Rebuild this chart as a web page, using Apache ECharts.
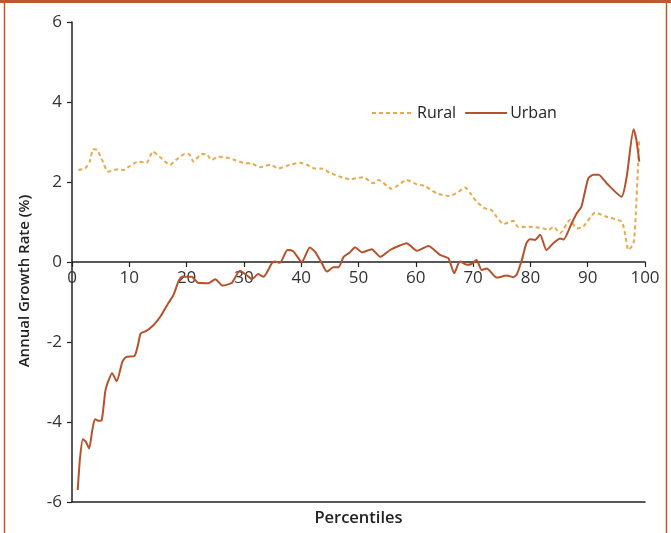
<!DOCTYPE html>
<html>
<head>
<meta charset="utf-8">
<script src="https://cdn.jsdelivr.net/npm/echarts@6/dist/echarts.min.js"></script>
<style>
html,body{margin:0;padding:0;background:#fff;}
#chart{width:671px;height:533px;}
</style>
</head>
<body>
<div id="chart"></div>
<script>
const xTicks = [0,10,20,30,40,50,60,70,80,90,100];
const yTicks = [-6,-4,-2,0,2,4,6];
const seriesNames = ['Rural','Urban'];

const ruralPct = [1.1,2.3,3.1,3.7,4.4,5.2,6.3,8.1,9.0,10.1,11.6,13.0,14.1,15.4,17.1,18.3,19.7,20.5,21.2,22.6,23.5,24.4,25.5,27.0,28.4,30.2,31.4,32.8,34.6,36.0,38.0,39.8,41.0,42.4,43.5,45.0,46.8,48.5,50.8,52.6,53.5,55.8,58.4,60.2,61.6,63.6,65.7,67.1,68.6,69.5,70.6,72.1,73.2,74.1,75.3,77.0,77.9,79.9,82.3,83.2,84.0,85.2,86.9,88.1,89.2,91.3,93.3,95.9,96.5,97.1,98.0,98.4,98.8,99.0];
const ruralRate = [2.30,2.34,2.51,2.82,2.80,2.57,2.26,2.32,2.30,2.40,2.51,2.48,2.76,2.62,2.43,2.57,2.70,2.69,2.51,2.70,2.69,2.55,2.63,2.61,2.55,2.47,2.46,2.37,2.43,2.34,2.43,2.48,2.43,2.34,2.34,2.23,2.13,2.07,2.12,1.97,2.05,1.83,2.05,1.94,1.90,1.72,1.65,1.72,1.86,1.72,1.51,1.34,1.30,1.13,0.95,1.03,0.87,0.88,0.84,0.80,0.88,0.72,1.05,0.84,0.88,1.23,1.13,1.01,0.72,0.30,0.47,1.22,2.47,3.09];

const urbanPct = [1.0,1.4,1.9,2.4,3.0,3.5,4.0,4.6,5.2,5.8,6.2,7.0,7.8,8.8,9.5,10.9,11.5,12.0,12.9,14.2,15.4,16.8,17.7,18.6,19.2,20.9,22.0,23.8,25.0,26.3,27.9,29.3,30.5,31.4,32.5,33.4,34.9,35.4,36.3,37.6,38.6,40.1,41.5,42.4,43.6,44.5,45.6,46.5,47.4,48.5,49.4,50.6,52.3,53.8,55.5,57.0,58.4,60.2,62.2,64.2,65.7,66.7,67.7,68.9,69.7,70.6,71.5,72.4,74.1,75.9,77.0,77.6,78.5,79.3,79.9,80.8,81.7,82.8,84.0,85.2,85.8,87.2,88.1,88.9,90.1,91.0,91.9,93.3,95.9,96.8,98.0,98.5,99.0];
const urbanRate = [-5.7,-4.9,-4.43,-4.49,-4.66,-4.24,-3.93,-3.97,-3.95,-3.24,-3.03,-2.78,-2.98,-2.49,-2.37,-2.35,-2.08,-1.78,-1.73,-1.58,-1.37,-1.03,-0.83,-0.48,-0.37,-0.37,-0.52,-0.53,-0.43,-0.59,-0.52,-0.22,-0.33,-0.43,-0.30,-0.37,-0.03,0.01,-0.02,0.30,0.27,0.0,0.36,0.26,-0.03,-0.24,-0.13,-0.13,0.13,0.24,0.37,0.24,0.32,0.13,0.30,0.40,0.47,0.28,0.40,0.18,0.09,-0.28,0.01,-0.07,-0.05,0.05,-0.2,-0.16,-0.39,-0.34,-0.38,-0.32,0.05,0.47,0.57,0.55,0.68,0.30,0.47,0.59,0.56,0.97,1.22,1.38,2.09,2.18,2.18,1.97,1.63,2.13,3.32,3.05,2.51];

const FONT = 'Open Sans';
const TXT = '#222';
const RURAL_C = '#E9A94B';
const URBAN_C = '#B7512A';
const FRAME_C = '#B95A33';

const zip = (a,b) => a.map((v,i)=>[v,b[i]]);

const chart = echarts.init(document.getElementById('chart'), null, {renderer:'canvas'});
chart.setOption({
  animation:false,
  backgroundColor:'#fff',
  textStyle:{fontFamily:FONT},
  grid:[
    {left:72,right:26,top:22,bottom:31,containLabel:false},
    /* upper half: its bottom edge is the y = 0 line of grid 0 */
    {left:72,right:26,top:22,bottom:271,containLabel:false}
  ],
  legend:{
    data:seriesNames,
    left:366, top:100,
    itemWidth:42, itemHeight:14, itemGap:8,
    itemStyle:{color:'rgba(0,0,0,0)',borderWidth:0,opacity:0},
    textStyle:{fontFamily:FONT,fontSize:16,color:TXT,padding:[0,0,0,-2]}
  },
  xAxis:[{
    gridIndex:0,
    type:'value', min:xTicks[0], max:xTicks[xTicks.length-1], interval:10, position:'bottom',
    axisLine:{show:true,onZero:false,lineStyle:{color:TXT,width:1.5}},
    axisTick:{show:false}, axisLabel:{show:false}, splitLine:{show:false},
    name:'Percentiles', nameLocation:'middle', nameGap:8,
    nameTextStyle:{fontFamily:FONT,fontSize:16.5,fontWeight:600,color:TXT}
  },{
    gridIndex:1,
    type:'value', min:xTicks[0], max:xTicks[xTicks.length-1], interval:10, position:'bottom',
    axisLine:{show:true,onZero:false,lineStyle:{color:TXT,width:1.5}},
    axisTick:{show:true,length:5,lineStyle:{color:TXT,width:1.2}},
    axisLabel:{fontFamily:FONT,fontSize:17,color:'#333',margin:8},
    splitLine:{show:false}
  }],
  yAxis:[{
    gridIndex:0,
    type:'value', min:yTicks[0], max:yTicks[yTicks.length-1], interval:2,
    axisLine:{show:true,lineStyle:{color:TXT,width:1.5}},
    axisTick:{show:true,length:5,lineStyle:{color:TXT,width:1.2}},
    axisLabel:{fontFamily:FONT,fontSize:17,color:'#333',margin:10},
    splitLine:{show:false},
    name:'Annual Growth Rate (%)', nameLocation:'middle', nameGap:40,
    nameTextStyle:{fontFamily:FONT,fontSize:15,fontWeight:600,color:TXT,padding:[0,38,0,0]}
  },{
    gridIndex:1, type:'value', min:0, max:yTicks[yTicks.length-1], show:false
  }],
  series:[{
    name:seriesNames[0], type:'line', xAxisIndex:0, yAxisIndex:0, symbol:'none', smooth:0.2,
    data:zip(ruralPct,ruralRate),
    lineStyle:{color:RURAL_C,width:2,type:[4,3]},
    itemStyle:{color:RURAL_C}
  },{
    name:seriesNames[1], type:'line', xAxisIndex:0, yAxisIndex:0, symbol:'none', smooth:0.2,
    data:zip(urbanPct,urbanRate),
    lineStyle:{color:URBAN_C,width:2},
    itemStyle:{color:URBAN_C}
  }],
  graphic:[
    {type:'rect',shape:{x:0,y:0,width:671,height:3},style:{fill:FRAME_C},silent:true},
    {type:'line',shape:{x1:4.5,y1:0,x2:4.5,y2:533},style:{stroke:FRAME_C,lineWidth:1.5},silent:true},
    {type:'line',shape:{x1:666.5,y1:0,x2:666.5,y2:533},style:{stroke:FRAME_C,lineWidth:1.5},silent:true}
  ]
});
</script>
</body>
</html>
